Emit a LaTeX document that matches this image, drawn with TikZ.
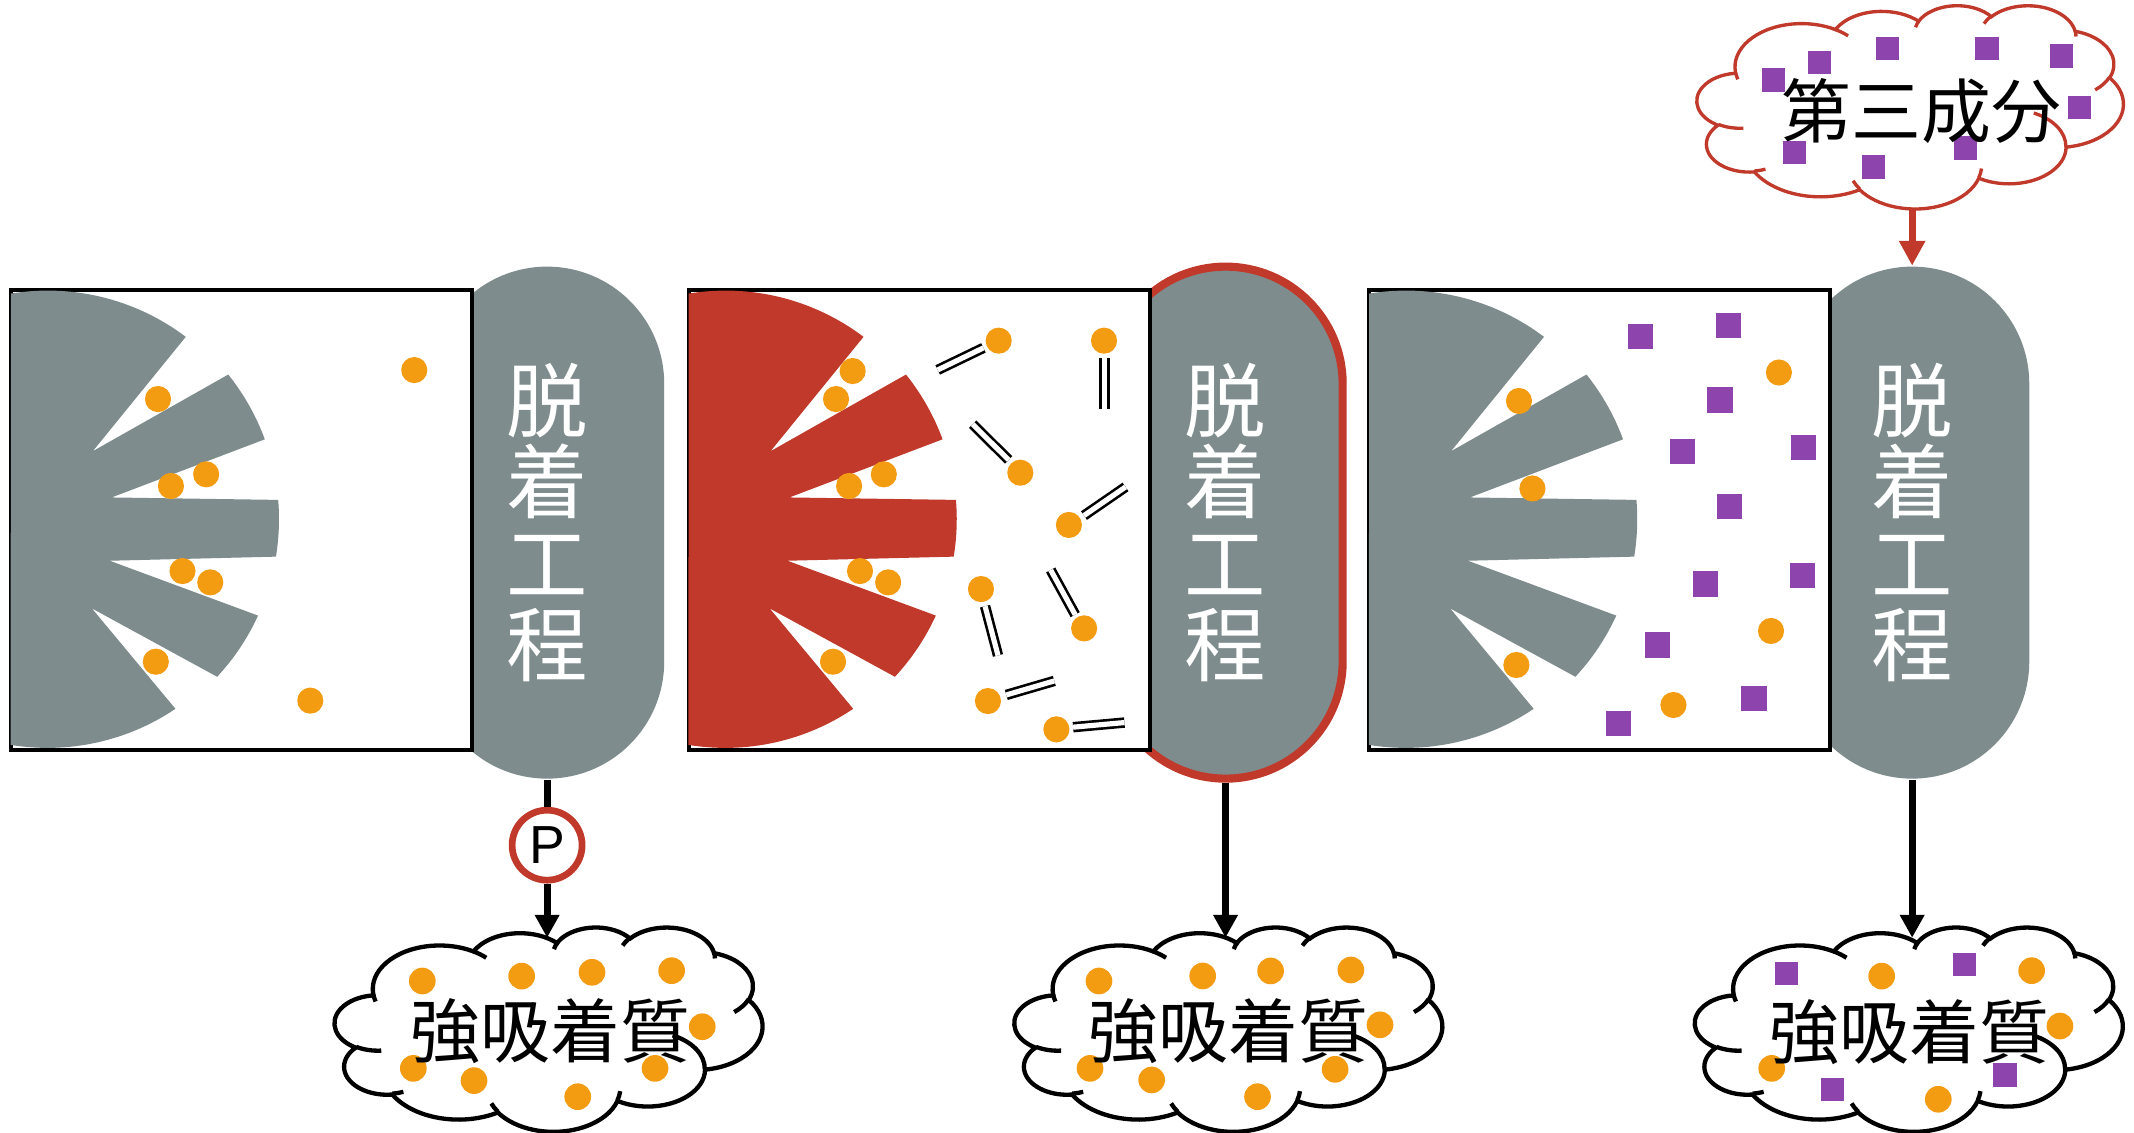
\documentclass[tikz,border=0pt]{standalone}
\usepackage{fontspec}
\setmainfont{Liberation Sans}
\newfontfamily\cjk{Noto Sans CJK JP}
\usetikzlibrary{arrows.meta}

\definecolor{slate}{HTML}{7F8C8D}
\definecolor{brick}{HTML}{C0392B}
\definecolor{amber}{HTML}{F39C12}
\definecolor{grape}{HTML}{8E44AD}

% elliptical arc given DrawingML-style (visual start angle and sweep)
\newcommand\cloudarc[4]{arc[start angle={atan2(#1*sin(#3),#2*cos(#3))},
  delta angle={mod(atan2(#1*sin(#3+#4),#2*cos(#3+#4))-atan2(#1*sin(#3),#2*cos(#3))+720,360)},
  x radius=#1, y radius=#2]}

% cloud outline in a 100 x 100 frame
\newcommand\cloudmain{(9.0278,33.2639)
  \cloudarc{15.6319}{21.2731}{-190.4875}{123.7805}
  \cloudarc{12.3449}{16.8218}{-144.1024}{89.9452}
  \cloudarc{10.1042}{13.7616}{-145.8079}{99.7230}
  \cloudarc{11.2431}{15.2662}{-130.9861}{117.2417}
  \cloudarc{12.3449}{16.8356}{-78.7089}{109.0269}
  \cloudarc{15.6829}{21.3426}{-46.2673}{130.2690}
  \cloudarc{13.3912}{18.2106}{0.6250}{114.0333}
  \cloudarc{15.6296}{21.3310}{22.4516}{115.1726}
  \cloudarc{17.8704}{24.4051}{66.2426}{75.7110}
  \cloudarc{10.0926}{13.6991}{-274.9421}{146.7356}
  \cloudarc{10.0579}{13.7616}{-246.8285}{152.5189}
  -- cycle}

% short creases inside the cloud
\newcommand\cloudinner{%
  (10.8634,60.5949) \cloudarc{10.0579}{13.7616}{86.7420}{26.4295}
  (16.0370,80.7847) \cloudarc{10.0926}{13.6991}{73.6105}{11.4475}
  (38.1435,90.4861) \cloudarc{15.6296}{21.3310}{137.6242}{14.0811}
  (66.7292,80.4421) \cloudarc{15.6296}{21.3310}{6.4533}{15.9984}
  (79.0023,53.1343) \cloudarc{13.3912}{18.2106}{-70.2924}{70.9174}
  (96.7546,35.5417) \cloudarc{12.3449}{16.8356}{30.3180}{27.7515}
  (88.7130,12.5602) \cloudarc{11.2431}{15.2662}{-13.7443}{14.8589}
  (67.3102,9.1481) \cloudarc{11.2431}{15.2662}{-149.1815}{18.1954}
  (51.2523,10.9259) \cloudarc{10.1042}{13.7616}{-163.4943}{17.6864}
  (32.4074,12.0185) \cloudarc{15.6319}{21.2731}{-66.7070}{12.3194}
  (9.5532,36.5486) \cloudarc{15.6319}{21.2731}{157.6544}{11.8582}}

% adsorbent particle: disc with fingers
\newcommand\fanpath{(8,215.7) arc[start angle=-99.3, end angle=-52.9, radius=168]
  -- (68.2,331.5) -- (167.7,275.2) arc[start angle=-38.7, end angle=-20.2, radius=170]
  -- (82,365.5) -- (204.4,367.3) arc[start angle=-4.8, end angle=9.3, radius=170]
  -- (80.6,412) -- (189.6,452.3) arc[start angle=24.6, end angle=42.9, radius=170]
  -- (67.5,447) -- (128.9,520.8) arc[start angle=56, end angle=99.3, radius=168]
  -- cycle}

\tikzset{
  capsule/.style={rectangle, rounded corners=0.86cm, minimum width=1.72cm,
    minimum height=3.76cm, fill=slate, inner sep=0pt, text=white, align=center,
    font=\cjk\fontsize{17pt}{17pt}\selectfont},
  panelbox/.style={draw=black, line width=0.8pt, fill=white},
  bond/.style={line width=0.55pt, double=white, double distance=1.08pt},
  stem/.style={line width=1.5pt},
  flow/.style={line width=1.5pt, -{Triangle[width=4.9pt,length=4.8pt]}},
  feedflow/.style={draw=brick, line width=1.4pt, -{Triangle[width=5.2pt,length=5.2pt]}},
  pmark/.style={circle, draw=brick, line width=1.4pt, fill=white, minimum size=5.14mm,
    inner sep=0pt, font=\fontsize{11.2pt}{11.2pt}\selectfont},
  cloudlabel/.style={inner sep=0pt, font=\cjk\fontsize{14.6pt}{14.6pt}\selectfont},
  bottomcloud/.style={draw=black, line width=0.9pt},
  topcloud/.style={draw=brick, line width=0.7pt},
}

\begin{document}
\begin{tikzpicture}[x=0.01cm, y=-0.01cm]
\useasboundingbox (0,0) rectangle (1568,832);
\fill[white] (0,0) rectangle (1568,832);

% desorption columns
\node[capsule] (cap1) at (402,384) {脱\\着\\工\\程};
\node[capsule, draw=brick, line width=1.7pt] (cap2) at (900.5,384) {脱\\着\\工\\程};
\node[capsule] (cap3) at (1405,384) {脱\\着\\工\\程};

% vessels
\foreach \dx in {0,498,998}
  \draw[panelbox] (8.2+\dx,213) rectangle (346.8+\dx,551);

% adsorbent particles
\fill[slate] \fanpath;
\begin{scope}[shift={(498,0)}] \fill[brick] \fanpath; \end{scope}
\begin{scope}[shift={(998,0)}] \fill[slate] \fanpath; \end{scope}

% strongly adsorbed molecules
\foreach \p in {(304.4,271.9),(116.1,293.2),(151.5,348.5),(125.6,357.1),(134.1,419.6),
  (154.5,427.9),(114.5,486.2),(228,514.8),
  (626.5,272.6),(614.3,293.2),(649.4,348.5),(623.9,357.1),(631.9,419.6),(652.6,427.9),
  (612.1,486.2),(733.8,250.3),(811.2,250.3),(749.7,347.3),(785.4,385.7),(720.8,432.8),
  (796.6,461.7),(725.9,515.1),(776.2,535.9),
  (1307.1,273.7),(1116.1,294.6),(1126,358.9),(1301.3,463.6),(1114.2,488.6),(1229.6,518)}
  \fill[amber] \p circle[radius=9.6];

% bonds of the released molecules
\draw[bond] (689,271.8) -- (722.6,255.6);
\draw[bond] (811.5,263.3) -- (811.5,300.7);
\draw[bond] (714.7,311.7) -- (741.1,337.9);
\draw[bond] (796.5,378.8) -- (827,357.8);
\draw[bond] (723.8,445.4) -- (733.3,481.6);
\draw[bond] (772,418.8) -- (790,451.6);
\draw[bond] (739.4,510.6) -- (774.7,500.3);
\draw[bond] (788.5,534.3) -- (826.2,530.9);

% third component in the vessel
\foreach \p in {(1205.7,247.2),(1270.4,239.5),(1263.8,293.9),(1236.2,331.7),(1325.5,328.8),
  (1271.1,372.2),(1324.4,422.5),(1252.8,429.1),(1217.8,473.9),(1288.8,513.2),(1189.2,531.6)}
  \fill[grape] \p ++(-9.2,-9.2) rectangle ++(18.4,18.4);

% third component supply cloud
\begin{scope}[shift={(1247,3.7)}, x=0.0313cm, y=-0.01493cm]
  \filldraw[topcloud, fill=white] \cloudmain;
\end{scope}
\foreach \p in {(1303,58.8),(1336.7,45.8),(1387,35.5),(1460,35.5),(1515,41.1),(1528,78.7),
  (1318.7,112.1),(1376.4,122.7),(1444.4,108.7)}
  \fill[grape] \p ++(-8.5,-8.5) rectangle ++(17,17);
\begin{scope}[shift={(1247,3.7)}, x=0.0313cm, y=-0.01493cm]
  \draw[topcloud] \cloudinner;
\end{scope}
\node[cloudlabel] (third) at (1412,81.5) {第三成分};

% product clouds
\begin{scope}[shift={(246,681)}, x=0.0314cm, y=-0.0150cm]
  \filldraw[bottomcloud, fill=white] \cloudmain;
\end{scope}
\begin{scope}[shift={(745.5,681)}, x=0.0314cm, y=-0.0150cm]
  \filldraw[bottomcloud, fill=white] \cloudmain;
\end{scope}
\begin{scope}[shift={(1245.5,681)}, x=0.0314cm, y=-0.0150cm]
  \filldraw[bottomcloud, fill=white] \cloudmain;
\end{scope}

\foreach \p in {(310.3,720.8),(383.3,717.2),(435,714.4),(493.5,713.2),(516,754.4),
  (303.7,785),(348.3,794),(424.5,805.8),(481.3,785),
  (807.5,720.8),(883.7,717.1),(933.6,713.4),(992.6,712.7),(1014,753),
  (800.9,785),(846.2,793.5),(924,805.8),(981,785.7),
  (1382.6,717.2),(1492.8,713.2),(1513.6,753.9),(1301.8,785),(1424.2,807.7)}
  \fill[amber] \p circle[radius=9.8];
\foreach \p in {(1312.8,715.6),(1443.3,708.5),(1346.3,800.4),(1473.2,789.9)}
  \fill[grape] \p ++(-8.5,-8.5) rectangle ++(17,17);

\begin{scope}[shift={(246,681)}, x=0.0314cm, y=-0.0150cm]
  \draw[bottomcloud] \cloudinner;
\end{scope}
\begin{scope}[shift={(745.5,681)}, x=0.0314cm, y=-0.0150cm]
  \draw[bottomcloud] \cloudinner;
\end{scope}
\begin{scope}[shift={(1245.5,681)}, x=0.0314cm, y=-0.0150cm]
  \draw[bottomcloud] \cloudinner;
\end{scope}

\node[cloudlabel] (out1) at (404.5,758) {強吸着質};
\node[cloudlabel] (out2) at (902.5,758) {強吸着質};
\node[cloudlabel] (out3) at (1402.8,758.3) {強吸着質};

% flows
\node[pmark] (pump) at (402,621) {P};
\coordinate (dip1) at (402,689);
\coordinate (dip2) at (900.5,689);
\coordinate (dip3) at (1405,689);
\coordinate (feed) at (1405,153);
\draw[stem] (cap1) -- (pump);
\draw[flow] (pump) -- (dip1);
\draw[flow] (cap2) -- (dip2);
\draw[flow] (cap3) -- (dip3);
\draw[feedflow] (feed) -- (cap3);
\end{tikzpicture}
\end{document}
